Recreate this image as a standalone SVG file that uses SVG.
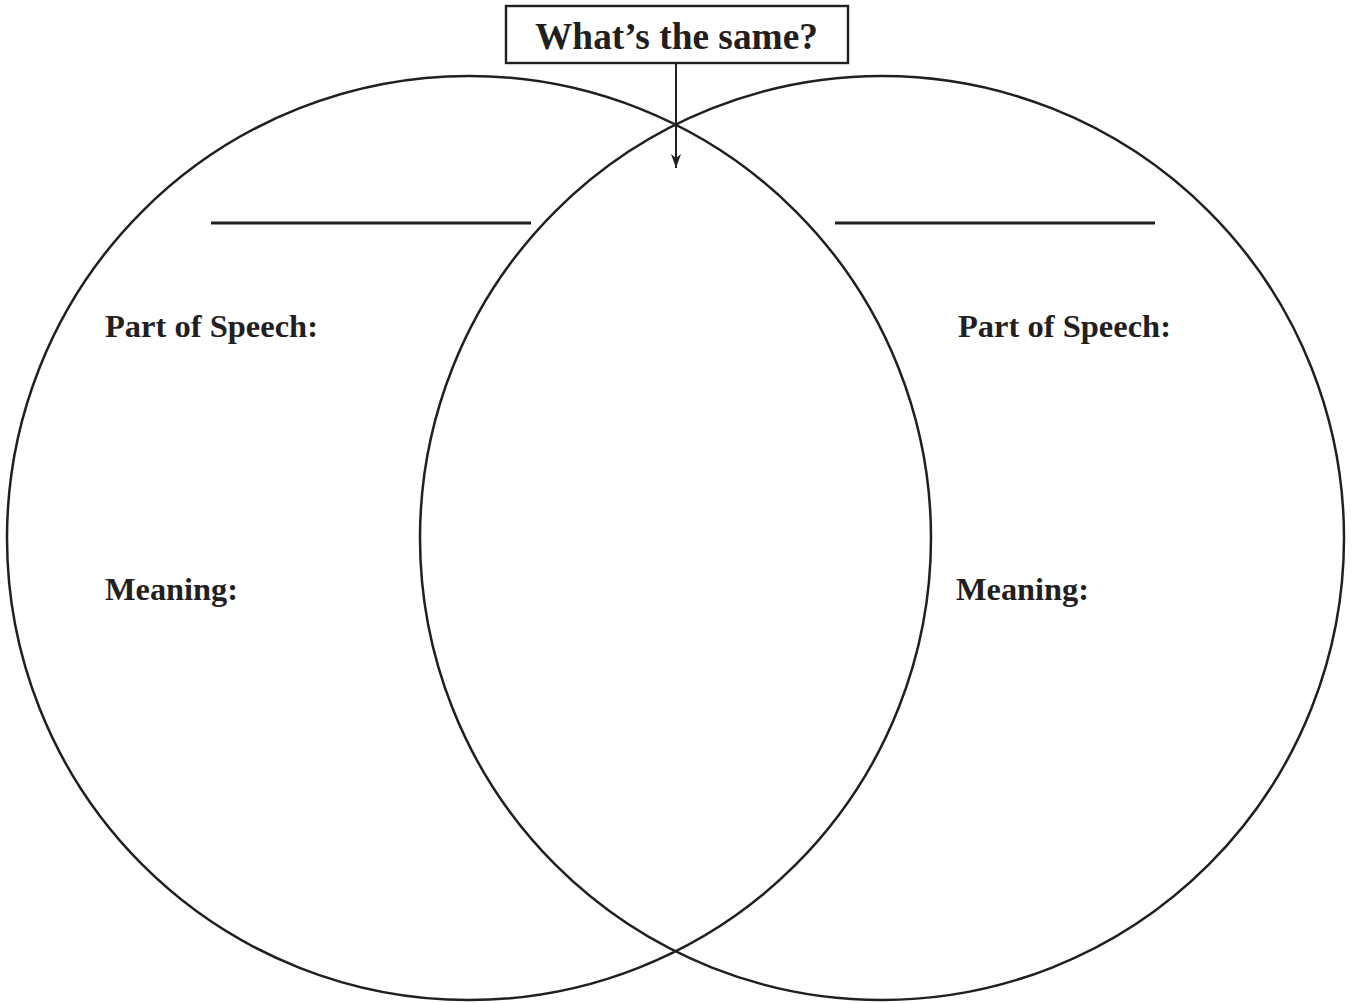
<svg xmlns="http://www.w3.org/2000/svg" width="1353" height="1003" viewBox="0 0 1353 1003">
<style>
.c{fill:none;stroke:#231f20;stroke-width:2.5}
.ln{stroke:#231f20;stroke-width:3.2}
.t{font-family:"Liberation Serif",serif;font-weight:bold;fill:#231f20}
</style>
<defs>
<marker id="ah" viewBox="0 0 14 10" refX="14" refY="5" markerWidth="14" markerHeight="10" markerUnits="userSpaceOnUse" orient="auto">
<path d="M0,0 L14,5 L0,10 L4,5 Z" fill="#231f20"/>
</marker>
</defs>
<rect width="1353" height="1003" fill="#fff"/>
<g id="left-circle">
<circle class="c" cx="469" cy="538" r="462"/>
<line class="ln" x1="211" y1="223" x2="531" y2="223"/>
<text class="t" x="105" y="337" font-size="32" textLength="213" lengthAdjust="spacingAndGlyphs">Part of Speech:</text>
<text class="t" x="105" y="600" font-size="32" textLength="133" lengthAdjust="spacingAndGlyphs">Meaning:</text>
</g>
<g id="right-circle">
<circle class="c" cx="882" cy="538" r="462"/>
<line class="ln" x1="835" y1="223" x2="1155" y2="223"/>
<text class="t" x="958" y="337" font-size="32" textLength="213" lengthAdjust="spacingAndGlyphs">Part of Speech:</text>
<text class="t" x="956" y="600" font-size="32" textLength="133" lengthAdjust="spacingAndGlyphs">Meaning:</text>
</g>
<g id="title">
<rect x="506" y="6" width="342" height="57" fill="#fff" stroke="#231f20" stroke-width="2.4"/>
<text class="t" x="535" y="49" font-size="37" textLength="283" lengthAdjust="spacingAndGlyphs">What’s the same?</text>
</g>
<g id="connectors">
<line x1="676" y1="63" x2="676" y2="168" stroke="#231f20" stroke-width="2" marker-end="url(#ah)"/>
</g>
</svg>
